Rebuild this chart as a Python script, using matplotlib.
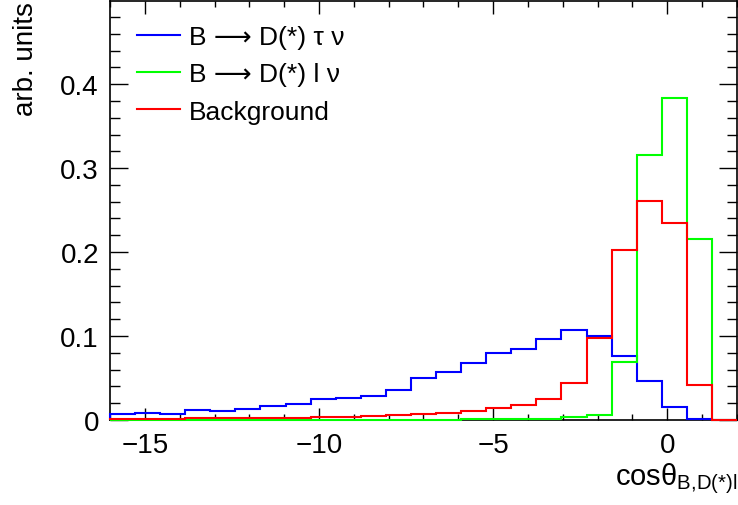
import numpy as np
import matplotlib
matplotlib.use("Agg")
import matplotlib.pyplot as plt
from matplotlib.ticker import MultipleLocator

plt.rcParams['font.family'] = ['Liberation Sans', 'DejaVu Sans']
plt.rcParams['mathtext.fontset'] = 'custom'
plt.rcParams['mathtext.rm'] = 'Liberation Sans'
plt.rcParams['mathtext.it'] = 'Liberation Sans:italic'
plt.rcParams['mathtext.bf'] = 'Liberation Sans:bold'

# Binning: 25 bins from -16 to 2
x_min, x_max, n_bins = -16.0, 2.0, 25

tau_nu = [0.0071, 0.0085, 0.0073, 0.0114, 0.0113, 0.0127, 0.0168, 0.0185,
          0.0252, 0.0267, 0.0284, 0.0359, 0.0500, 0.0575, 0.0683, 0.0800,
          0.0849, 0.0964, 0.1067, 0.1002, 0.0768, 0.0470, 0.0157, 0.0015, 0.0]
l_nu = [0.0002, 0.0002, 0.0002, 0.0003, 0.0003, 0.0003, 0.0003, 0.0004,
        0.0004, 0.0004, 0.0005, 0.0005, 0.0005, 0.0005, 0.0006, 0.0006,
        0.0008, 0.0016, 0.0030, 0.0058, 0.0690, 0.3155, 0.3830, 0.2155, 0.0]
background = [0.0015, 0.0015, 0.0016, 0.0018, 0.0019, 0.0022, 0.0025, 0.0028,
              0.0035, 0.0040, 0.0048, 0.0058, 0.0070, 0.0083, 0.0104, 0.0140,
              0.0181, 0.0252, 0.0436, 0.0982, 0.2030, 0.2607, 0.2345, 0.0420, 0.0]

labels = ["B ⟶ D(*) τ ν", "B ⟶ D(*) l ν", "Background"]
colors = ["#0000ff", "#00ff00", "#ff0000"]

edges = np.linspace(x_min, x_max, n_bins + 1)

fig = plt.figure(figsize=(7.38, 5.06), dpi=100)
ax = fig.add_axes([110 / 738, 1 - 421 / 506, (737 - 110) / 738, (421 - 2) / 506])

for vals, lab, col in zip([tau_nu, l_nu, background], labels, colors):
    ax.stairs(vals, edges, baseline=0, color=col, lw=1.5, label=lab,
              zorder=3, clip_on=False)

ax.set_xlim(x_min, x_max)
ax.set_ylim(0, 0.499)
ax.xaxis.set_major_locator(MultipleLocator(5))
ax.xaxis.set_minor_locator(MultipleLocator(1))
ax.yaxis.set_major_locator(MultipleLocator(0.1))
ax.yaxis.set_minor_locator(MultipleLocator(0.02))
ax.yaxis.set_major_formatter(matplotlib.ticker.FuncFormatter(
    lambda v, p: "0" if abs(v) < 1e-9 else f"{v:.1f}"))

ax.tick_params(axis='x', which='both', direction='in', top=True, bottom=True,
               labelsize=20, pad=9, width=1)
ax.tick_params(axis='x', which='major', length=9)
ax.tick_params(axis='x', which='minor', length=4.5)
ax.tick_params(axis='y', which='both', direction='in', left=True, right=True,
               labelsize=20, pad=8, width=1)
ax.tick_params(axis='y', which='major', length=13)
ax.tick_params(axis='y', which='minor', length=7)
for s in ax.spines.values():
    s.set_linewidth(1.2)

ax.set_ylabel("arb. units", fontsize=20, loc='top')
ax.yaxis.set_label_coords(-0.113, 1.0)

fig.text(0.999, 1 - 485 / 506, r"cosθ$_{\mathrm{B{,}D(*)l}}$", fontsize=21,
         ha='right', va='baseline')

leg = ax.legend(loc='upper left', bbox_to_anchor=(0.035, 0.955), frameon=False,
                fontsize=19, handlelength=1.63, handletextpad=0.34,
                labelspacing=0.5, borderaxespad=0, borderpad=0.2)

fig.savefig("out.png", dpi=100)
